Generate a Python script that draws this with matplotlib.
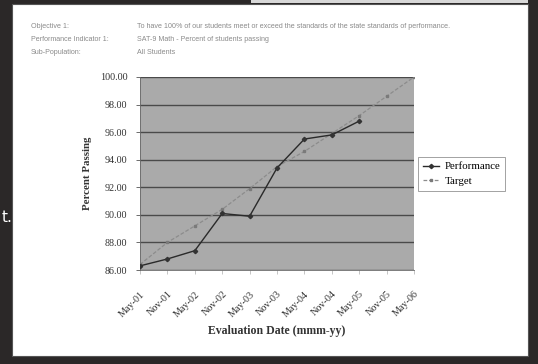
import numpy as np
import matplotlib
matplotlib.use("Agg")
import matplotlib.pyplot as plt
from matplotlib.patches import Rectangle

# Evaluation dates and passing rates
dates = ["May-01", "Nov-01", "May-02", "Nov-02", "May-03", "Nov-03",
         "May-04", "Nov-04", "May-05", "Nov-05", "May-06"]
performance = [86.3, 86.8, 87.4, 90.1, 89.9, 93.4, 95.5, 95.8, 96.8, np.nan, np.nan]
target = [86.4, 88.0, 89.2, 90.4, 91.9, 93.5, 94.6, 95.9, 97.2, 98.6, 100.0]
yticks = [86, 88, 90, 92, 94, 96, 98, 100]

header_keys = ["Objective 1:", "Performance Indicator 1:", "Sub-Population:"]
header_vals = ["To have 100% of our students meet or exceed the standards of the state standards of performance.",
               "SAT-9 Math - Percent of students passing",
               "All Students"]

W, H = 538, 364
fig = plt.figure(figsize=(W / 100, H / 100), dpi=100)
fig.patch.set_facecolor("#2b2828")

def px(x, y):
    return x / W, 1 - y / H

# white report page behind everything
fig.patches.append(Rectangle(px(12, 356), (528 - 12) / W, (356 - 4) / H,
                             transform=fig.transFigure, facecolor="white",
                             edgecolor="#555555", linewidth=0.8, zorder=-10))
fig.patches.append(Rectangle(px(251, 3), (528 - 251) / W, 3 / H,
                             transform=fig.transFigure, facecolor="#d8d8d8",
                             edgecolor="none", zorder=-10))

fig.text(*px(2, 218), "t.", color="white", fontsize=11, family="DejaVu Sans",
         va="center", ha="left")

# header block
for i, (k, v) in enumerate(zip(header_keys, header_vals)):
    yy = 26 + i * 13.5
    fig.text(*px(31, yy), k, fontsize=5.1, color="#8a8a8a", family="Liberation Sans",
             va="center", ha="left")
    fig.text(*px(137, yy), v, fontsize=5.1, color="#8a8a8a", family="Liberation Sans",
             va="center", ha="left")

l, r, t, b = 140, 414, 77, 270
ax = fig.add_axes([l / W, 1 - b / H, (r - l) / W, (b - t) / H])
ax.set_facecolor("#aaaaaa")
x = np.arange(len(dates))

ax.plot(x, target, color="#8c8c8c", linewidth=0.9, linestyle=(0, (3, 1.5)),
        marker="s", markersize=2.0, markerfacecolor="#7a7a7a",
        markeredgecolor="#7a7a7a", label="Target", zorder=3)
ax.plot(x, performance, color="#2a2a2a", linewidth=1.0,
        marker="D", markersize=2.2, markerfacecolor="#333333",
        markeredgecolor="#333333", label="Performance", zorder=4)

ax.set_xlim(0, len(dates) - 1)
ax.set_ylim(86, 100)
ax.set_yticks(yticks)
ax.set_yticklabels([f"{v:.2f}" for v in yticks], family="Liberation Serif",
                   fontsize=7.3, color="#333333")
ax.set_xticks(x)
ax.set_xticklabels(dates, rotation=45, ha="right", rotation_mode="anchor",
                   family="Liberation Serif", fontsize=7.3, color="#333333")
ax.tick_params(axis="y", length=3, pad=6, color="#555555", width=0.6)
ax.tick_params(axis="x", length=3, pad=11, color="#bbbbbb", width=0.6)
ax.grid(axis="y", color="#4a4a4a", linewidth=1.0)
ax.set_axisbelow(True)
for side in ["top", "right"]:
    ax.spines[side].set_visible(False)
ax.spines["left"].set_color("#666666")
ax.spines["bottom"].set_color("#666666")
ax.spines["left"].set_linewidth(0.6)
ax.spines["bottom"].set_linewidth(0.6)

ax.set_ylabel("Percent Passing", family="Liberation Serif", fontweight="bold",
              fontsize=7.8, color="#333333", labelpad=6)
ax.set_xlabel("Evaluation Date (mmm-yy)", family="Liberation Serif",
              fontweight="bold", fontsize=8.5, color="#333333", labelpad=5)

handles, labels = ax.get_legend_handles_labels()
leg = fig.legend(handles[::-1], labels[::-1], loc="upper left",
                 bbox_to_anchor=(418 / W, 1 - 157 / H), borderaxespad=0,
                 prop={"family": "Liberation Serif", "size": 7.8},
                 frameon=True, fancybox=False, edgecolor="#777777",
                 handlelength=1.5, handletextpad=0.5, borderpad=0.45,
                 labelspacing=0.45)
leg.get_frame().set_linewidth(0.6)

fig.savefig("out.png", dpi=100, facecolor=fig.get_facecolor())
